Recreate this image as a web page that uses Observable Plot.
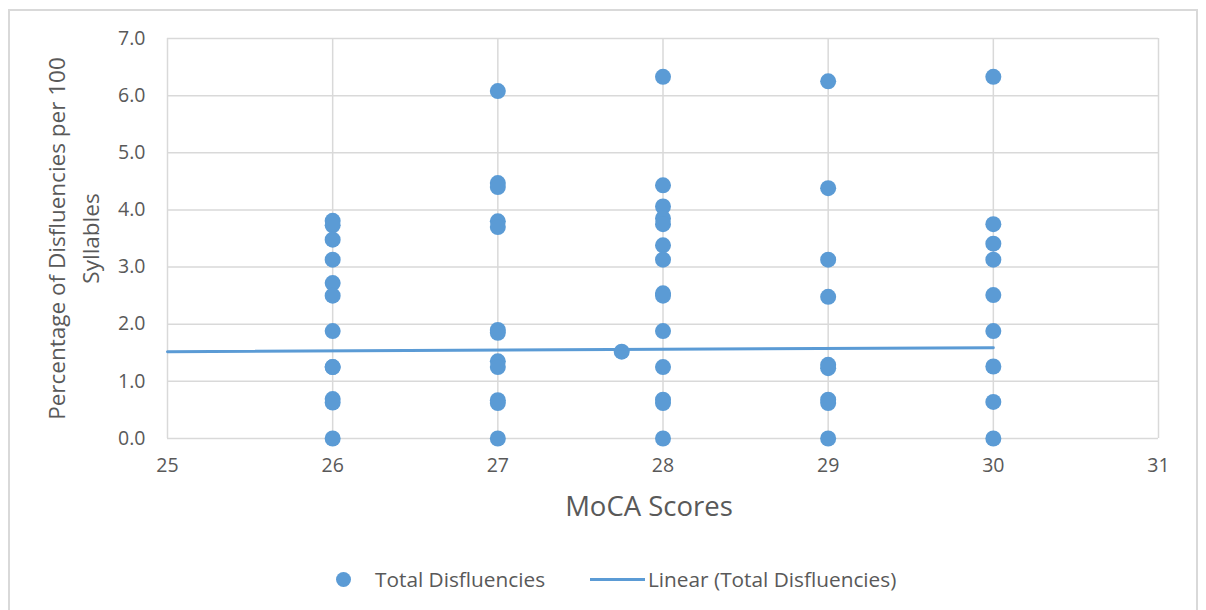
<!DOCTYPE html>
<html>
<head>
<meta charset="utf-8">
<script src="https://cdn.jsdelivr.net/npm/d3@7"></script>
<script src="https://cdn.jsdelivr.net/npm/@observablehq/plot@0.6"></script>
<style>
  html, body { margin: 0; padding: 0; background: #fff; }
  #wrap { position: relative; width: 1206px; height: 610px; overflow: hidden; font-family: "Open Sans", sans-serif; color: #595959; }
  #border { position: absolute; left: 8px; top: 9px; width: 1190px; height: 640px; border: 2px solid #d9d9d9; box-sizing: border-box; }
  #chart { position: absolute; left: 0; top: 0; }
  #legend { position: absolute; left: 0; top: 566px; width: 1206px; height: 26px; font-size: 20.8px; }
  .lg { position: absolute; top: 0; line-height: 26px; white-space: nowrap; }
  .dotsw { position: absolute; width: 15px; height: 15px; border-radius: 50%; background: #5b9bd5; top: 5.5px; }
  .linesw { position: absolute; width: 55px; height: 3px; background: #5b9bd5; top: 12px; }
</style>
</head>
<body>
<div id="wrap">
  <div id="border"></div>
  <div id="chart"></div>
  <div id="legend">
    <div class="dotsw" style="left:336px"></div>
    <div class="lg" style="left:375px">Total Disfluencies</div>
    <div class="linesw" style="left:590px"></div>
    <div class="lg" style="left:648px">Linear (Total Disfluencies)</div>
  </div>
</div>
<script>
// MoCA score (x) and total disfluencies per 100 syllables (y)
const mocaScores = [
  26,26,26,26,26,26,26,26,26,26,26,26,
  27,27,27,27,27,27,27,27,27,27,27,27,
  27.75,
  28,28,28,28,28,28,28,28,28,28,28,28,28,28,
  29,29,29,29,29,29,29,29,29,
  30,30,30,30,30,30,30,30,30
];
const disfluencies = [
  3.81,3.73,3.48,3.13,2.72,2.50,1.88,1.25,1.25,0.69,0.63,0.00,
  6.08,4.47,4.40,3.80,3.70,1.90,1.85,1.35,1.25,0.67,0.62,0.00,
  1.52,
  6.33,4.43,4.06,3.85,3.75,3.38,3.13,2.54,2.50,1.88,1.25,0.68,0.62,0.00,
  6.25,4.38,3.13,2.48,1.29,1.23,0.68,0.62,0.00,
  6.33,3.75,3.41,3.13,2.51,1.88,1.26,0.64,0.00
];
// Linear trendline endpoints
const trendX = [25, 30];
const trendY = [1.52, 1.59];
const xTicks = [25, 26, 27, 28, 29, 30, 31];
const yTicks = [0, 1, 2, 3, 4, 5, 6, 7];
const xTitle = "MoCA Scores";
const yTitle = "Percentage of Disfluencies per 100\nSyllables";

const points = mocaScores.map((x, i) => ({x, y: disfluencies[i]}));
const trend = trendX.map((x, i) => ({x, y: trendY[i]}));

const grid = "#d9d9d9";
const chart = Plot.plot({
  width: 1206,
  height: 540,
  marginLeft: 167,
  marginRight: 48,
  marginTop: 38,
  marginBottom: 102,
  style: {fontFamily: "'Open Sans', sans-serif", color: "#595959", background: "transparent"},
  x: {domain: [25, 31], ticks: xTicks},
  y: {domain: [0, 7], ticks: yTicks},
  marks: [
    Plot.gridX(xTicks, {stroke: grid, strokeOpacity: 1, strokeWidth: 1.5}),
    Plot.gridY(yTicks, {stroke: grid, strokeOpacity: 1, strokeWidth: 1.5}),
    Plot.axisX(xTicks, {tickSize: 0, tickPadding: 20, fontSize: 19.5, fill: "#595959", label: null, tickFormat: d3.format("d")}),
    Plot.axisY(yTicks, {tickSize: 0, tickPadding: 22, fontSize: 19.5, fill: "#595959", label: null, tickFormat: d3.format(".1f")}),
    Plot.dot(points, {x: "x", y: "y", r: 8, fill: "#5b9bd5", stroke: "none"}),
    Plot.line(trend, {x: "x", y: "y", stroke: "#5b9bd5", strokeWidth: 3}),
    Plot.text([xTitle], {frameAnchor: "bottom", dx: -14, dy: 77, fontSize: 27.5, fill: "#595959"}),
    Plot.text([yTitle], {frameAnchor: "left", dx: -96, rotate: -90, fontSize: 22.5, lineHeight: 1.5, fill: "#595959", textAnchor: "middle"})
  ]
});
document.getElementById("chart").appendChild(chart);
</script>
</body>
</html>
